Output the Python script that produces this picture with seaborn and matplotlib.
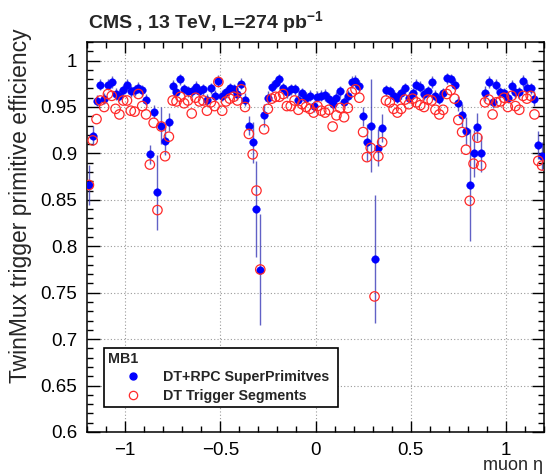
import numpy as np
import pandas as pd
import matplotlib
matplotlib.use("Agg")
import matplotlib.pyplot as plt
import seaborn as sns
from matplotlib.ticker import MultipleLocator, FuncFormatter
from matplotlib.lines import Line2D

# 120 eta bins between -1.2 and 1.2
eta_range = (-1.2, 1.2)
n_bins = 120

# DT+RPC SuperPrimitives efficiency per eta bin
eff_superprim = [
    0.866, 0.919, 0.957, 0.974, 0.959, 0.974, 0.977, 0.964, 0.962, 0.968,
    0.974, 0.967, 0.968, 0.971, 0.968, 0.958, 0.899, 0.945, 0.858, 0.930,
    0.913, 0.934, 0.973, 0.966, 0.980, 0.969, 0.967, 0.967, 0.972, 0.967,
    0.969, 0.958, 0.970, 0.962, 0.978, 0.962, 0.966, 0.970, 0.969, 0.964,
    0.975, 0.958, 0.930, 0.912, 0.840, 0.775, 0.941, 0.960, 0.972, 0.976,
    0.980, 0.970, 0.966, 0.969, 0.969, 0.958, 0.965, 0.960, 0.962, 0.951,
    0.961, 0.962, 0.963, 0.959, 0.953, 0.960, 0.967, 0.955, 0.962, 0.977,
    0.978, 0.973, 0.940, 0.912, 0.930, 0.786, 0.906, 0.927, 0.968, 0.967,
    0.962, 0.960, 0.965, 0.970, 0.960, 0.965, 0.974, 0.972, 0.964, 0.967,
    0.977, 0.962, 0.959, 0.965, 0.981, 0.980, 0.974, 0.954, 0.941, 0.924,
    0.866, 0.900, 0.928, 0.900, 0.965, 0.977, 0.955, 0.974, 0.966, 0.965,
    0.960, 0.973, 0.966, 0.966, 0.978, 0.971, 0.970, 0.959, 0.909, 0.897,
]

# statistical uncertainty of the SuperPrimitives efficiency
err_superprim = [
    0.022, 0.010, 0.006, 0.006, 0.006, 0.006, 0.006, 0.006, 0.006, 0.006,
    0.006, 0.006, 0.006, 0.006, 0.006, 0.006, 0.010, 0.007, 0.040, 0.020,
    0.015, 0.010, 0.006, 0.006, 0.006, 0.006, 0.006, 0.006, 0.006, 0.006,
    0.006, 0.006, 0.006, 0.006, 0.006, 0.006, 0.006, 0.006, 0.006, 0.006,
    0.006, 0.007, 0.010, 0.022, 0.052, 0.060, 0.012, 0.007, 0.006, 0.006,
    0.006, 0.006, 0.006, 0.006, 0.006, 0.006, 0.006, 0.006, 0.006, 0.006,
    0.006, 0.006, 0.006, 0.006, 0.006, 0.006, 0.006, 0.006, 0.006, 0.006,
    0.006, 0.006, 0.010, 0.020, 0.050, 0.069, 0.020, 0.015, 0.006, 0.006,
    0.006, 0.006, 0.006, 0.006, 0.006, 0.006, 0.006, 0.006, 0.006, 0.006,
    0.006, 0.006, 0.006, 0.006, 0.006, 0.006, 0.006, 0.008, 0.012, 0.015,
    0.060, 0.025, 0.015, 0.020, 0.008, 0.006, 0.006, 0.006, 0.006, 0.006,
    0.006, 0.006, 0.006, 0.006, 0.006, 0.006, 0.006, 0.008, 0.015, 0.015,
]

# DT Trigger Segments efficiency per eta bin
eff_segments = [
    0.866, 0.914, 0.937, 0.957, 0.950, 0.964, 0.962, 0.948, 0.942, 0.957,
    0.957, 0.946, 0.945, 0.964, 0.951, 0.942, 0.888, 0.933, 0.839, 0.929,
    0.897, 0.918, 0.957, 0.956, 0.961, 0.954, 0.957, 0.943, 0.960, 0.956,
    0.957, 0.946, 0.955, 0.951, 0.977, 0.946, 0.956, 0.959, 0.961, 0.957,
    0.969, 0.950, 0.921, 0.899, 0.860, 0.775, 0.926, 0.948, 0.959, 0.961,
    0.961, 0.964, 0.951, 0.951, 0.957, 0.947, 0.953, 0.950, 0.948, 0.944,
    0.951, 0.946, 0.944, 0.947, 0.929, 0.941, 0.949, 0.939, 0.949, 0.966,
    0.969, 0.960, 0.923, 0.896, 0.906, 0.746, 0.897, 0.912, 0.957, 0.955,
    0.948, 0.944, 0.948, 0.958, 0.953, 0.959, 0.955, 0.952, 0.950, 0.958,
    0.957, 0.947, 0.942, 0.947, 0.964, 0.968, 0.959, 0.936, 0.923, 0.904,
    0.849, 0.889, 0.917, 0.887, 0.955, 0.958, 0.942, 0.955, 0.956, 0.960,
    0.950, 0.962, 0.951, 0.947, 0.962, 0.959, 0.962, 0.942, 0.892, 0.887,
]

label_superprim = "DT+RPC SuperPrimitves"
label_segments = "DT Trigger Segments"
legend_header = "MB1"
title_text = r"CMS , 13 TeV, L=274 pb$^{\mathbf{-1}}$"
xlabel_text = "muon η"
ylabel_text = "TwinMux trigger primitive efficiency"

sns.set_theme(style="ticks")
plt.rcParams["font.family"] = ["Liberation Sans", "DejaVu Sans"]
plt.rcParams["mathtext.fontset"] = "custom"
plt.rcParams["mathtext.rm"] = "Liberation Sans"
plt.rcParams["mathtext.bf"] = "Liberation Sans:bold"
plt.rcParams["axes.unicode_minus"] = True

edges = np.linspace(eta_range[0], eta_range[1], n_bins + 1)
eta = 0.5 * (edges[:-1] + edges[1:])

df = pd.DataFrame({
    "eta": eta,
    "superprim": eff_superprim,
    "superprim_err": err_superprim,
    "segments": eff_segments,
})

W, H = 546, 476
fig = plt.figure(figsize=(W / 100, H / 100), dpi=100)
ax = fig.add_axes([87 / W, 1 - 432 / H, (544 - 87) / W, (432 - 42) / H])

blue = "#0000ff"
bar_blue = "#3a3ab8"
red = "#ff2a2a"

# error bars of the SuperPrimitives series
ax.vlines(df["eta"], df["superprim"] - df["superprim_err"],
          df["superprim"] + df["superprim_err"],
          color=bar_blue, lw=1.0, alpha=0.8, zorder=2)

sns.scatterplot(data=df, x="eta", y="superprim", ax=ax, color=blue,
                edgecolor=blue, linewidth=0.3, s=30, marker="o",
                zorder=3, legend=False)
sns.scatterplot(data=df, x="eta", y="segments", ax=ax, color=red,
                facecolor="none", edgecolor=red, linewidth=0.9, s=46,
                marker="o", zorder=4, legend=False)

ax.set_xlim(*eta_range)
ax.set_ylim(0.6, 1.02)
ax.set_xlabel("")
ax.set_ylabel("")

ax.xaxis.set_major_locator(MultipleLocator(0.5))
ax.xaxis.set_minor_locator(MultipleLocator(0.1))
ax.yaxis.set_major_locator(MultipleLocator(0.05))
ax.yaxis.set_minor_locator(MultipleLocator(0.01))
fmt = FuncFormatter(lambda v, p: f"{v:g}".replace("-", "\u2212"))
ax.xaxis.set_major_formatter(fmt)
ax.yaxis.set_major_formatter(fmt)

ax.tick_params(axis="both", which="both", direction="in", top=True,
               right=True, colors="black", width=1.0, labelsize=13.5)
ax.tick_params(axis="x", which="major", length=8, pad=7)
ax.tick_params(axis="x", which="minor", length=4)
ax.tick_params(axis="y", which="major", length=9, pad=7)
ax.tick_params(axis="y", which="minor", length=4.5)
for s in ax.spines.values():
    s.set_color("black")
    s.set_linewidth(1.1)

ax.grid(True, which="major", color="#9a9a9a", linestyle=(0, (1, 2)),
        linewidth=0.8)
ax.set_axisbelow(True)

handles = [
    Line2D([], [], linestyle="none", marker="o", markersize=5,
           markerfacecolor=blue, markeredgecolor=blue),
    Line2D([], [], linestyle="none", marker="o", markersize=6,
           markerfacecolor="none", markeredgecolor=red, markeredgewidth=0.9),
]
leg = ax.legend(handles, [label_superprim, label_segments],
                title=legend_header, loc="lower left",
                bbox_to_anchor=(17 / 457, 25 / 390, 234 / 457, 61 / 390),
                mode="expand", alignment="left",
                prop={"weight": "bold", "size": 10.3},
                title_fontproperties={"weight": "bold", "size": 10.3},
                frameon=True, fancybox=False, shadow=False,
                borderpad=0.3, handlelength=3.5, handletextpad=0.3,
                labelspacing=0.3, borderaxespad=0)
leg.get_frame().set_edgecolor("black")
leg.get_frame().set_linewidth(1.2)
leg.get_frame().set_facecolor("white")
leg.get_frame().set_alpha(1.0)

fig.text(88 / W, 1 - 29.5 / H, title_text, fontsize=14, fontweight="bold",
         ha="left", va="baseline")
fig.text(21 / W, 1 - 28 / H, ylabel_text, rotation=90, fontsize=16.5,
         ha="center", va="top")
fig.text(543 / W, 1 - 466 / H, xlabel_text, fontsize=13, ha="right",
         va="center")

fig.savefig("out.png", dpi=100, facecolor="white")
